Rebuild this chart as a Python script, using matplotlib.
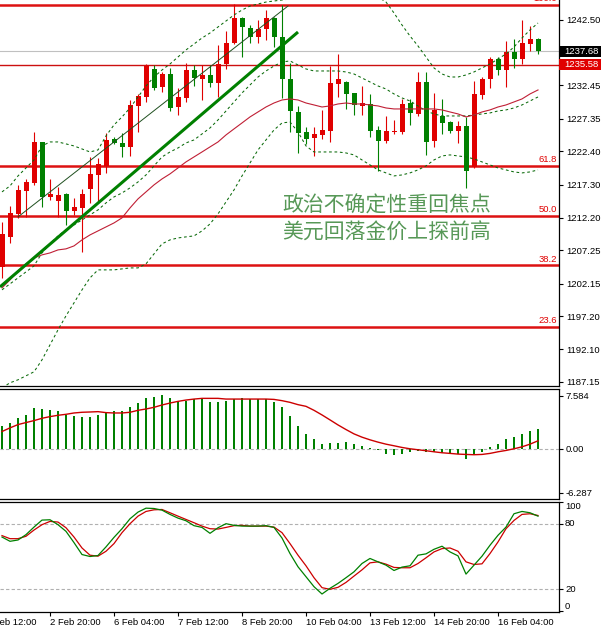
import matplotlib
matplotlib.use("Agg")
import matplotlib.pyplot as plt
import matplotlib.transforms as mtransforms
from matplotlib.patches import Rectangle
import numpy as np

plt.rcParams['font.family'] = ['Liberation Sans', 'DejaVu Sans']

# ---------------- data (4H XAUUSD) ----------------
opens = [1204.67, 1209.34, 1212.81, 1216.37, 1217.50, 1223.76, 1215.36, 1214.84, 1215.86, 1213.31,
         1213.68, 1216.63, 1218.76, 1220.14, 1224.21, 1223.69, 1223.08, 1229.30, 1230.63, 1234.95,
         1232.15, 1234.18, 1229.10, 1230.56, 1234.79, 1233.42, 1234.03, 1232.85, 1235.71, 1238.87,
         1242.69, 1241.16, 1239.79, 1241.01, 1242.69, 1239.79, 1233.37, 1228.34, 1225.28, 1224.37,
         1224.87, 1225.53, 1232.66, 1233.01, 1231.24, 1229.30, 1229.60, 1225.63, 1224.00, 1225.33,
         1225.28, 1229.71, 1228.08, 1233.01, 1224.00, 1227.77, 1226.90, 1225.53, 1226.24, 1219.94,
         1230.98, 1233.42, 1236.43, 1234.79, 1237.59, 1236.47, 1238.76, 1239.48]
highs = [1211.63, 1214.03, 1217.24, 1218.11, 1225.37, 1223.85, 1218.11, 1216.88, 1215.97, 1215.21,
         1216.63, 1221.56, 1221.36, 1225.13, 1224.61, 1225.22, 1230.21, 1231.13, 1235.71, 1235.56,
         1234.53, 1235.05, 1232.00, 1235.82, 1235.56, 1235.56, 1235.56, 1238.61, 1240.79, 1244.87,
         1242.88, 1241.66, 1242.43, 1243.95, 1242.88, 1244.72, 1235.82, 1229.30, 1226.14, 1226.14,
         1228.69, 1235.40, 1237.24, 1233.11, 1231.29, 1232.35, 1231.13, 1226.24, 1227.77, 1227.16,
         1230.32, 1230.32, 1234.53, 1234.53, 1231.24, 1230.32, 1227.05, 1227.05, 1227.66, 1233.16,
         1233.68, 1236.73, 1236.82, 1239.27, 1239.48, 1242.43, 1241.51, 1239.60]
lows = [1202.99, 1208.43, 1212.15, 1212.31, 1217.24, 1213.83, 1214.95, 1212.31, 1211.13, 1212.66,
        1207.05, 1214.53, 1214.53, 1219.11, 1223.50, 1221.56, 1221.71, 1225.37, 1229.95, 1231.74,
        1231.48, 1228.58, 1227.92, 1229.95, 1232.35, 1230.21, 1232.24, 1230.63, 1234.90, 1238.76,
        1236.73, 1238.87, 1238.87, 1239.37, 1238.35, 1230.47, 1225.37, 1222.17, 1223.50, 1221.71,
        1224.21, 1223.85, 1230.63, 1228.79, 1227.92, 1227.92, 1224.52, 1219.42, 1223.69, 1225.02,
        1225.02, 1226.40, 1227.77, 1221.82, 1223.08, 1225.02, 1225.13, 1223.69, 1216.73, 1219.79,
        1230.32, 1232.00, 1234.03, 1232.15, 1235.05, 1235.71, 1237.74, 1237.24]
closes = [1209.76, 1212.92, 1216.47, 1217.65, 1223.76, 1215.45, 1215.86, 1215.71, 1213.31, 1213.92,
          1215.82, 1218.92, 1220.44, 1224.11, 1223.60, 1223.08, 1229.45, 1230.82, 1235.45, 1232.09,
          1234.18, 1228.95, 1230.63, 1234.79, 1233.62, 1234.03, 1232.85, 1235.71, 1238.96, 1242.69,
          1241.40, 1239.79, 1241.01, 1242.69, 1239.79, 1233.37, 1228.58, 1225.22, 1224.21, 1225.02,
          1225.63, 1232.85, 1233.42, 1231.13, 1229.45, 1229.80, 1225.53, 1224.00, 1225.48, 1225.53,
          1229.60, 1228.18, 1233.01, 1223.85, 1228.69, 1226.75, 1225.53, 1226.24, 1219.42, 1231.13,
          1233.42, 1236.43, 1234.79, 1237.59, 1236.47, 1238.96, 1239.48, 1237.68]

bb_upper = [1216.17, 1217.08, 1218.61, 1219.83, 1221.05, 1223.19, 1223.80, 1223.80, 1223.50, 1223.19,
            1222.73, 1222.27, 1222.58, 1224.72, 1226.40, 1227.62, 1228.99, 1230.67, 1232.35, 1233.72,
            1234.79, 1235.71, 1236.78, 1237.85, 1238.76, 1239.68, 1240.44, 1241.36, 1242.27, 1243.19,
            1243.95, 1244.56, 1244.87, 1245.17, 1245.33, 1245.48, 1245.63, 1245.94, 1246.40, 1246.85,
            1247.16, 1247.31, 1247.31, 1247.31, 1247.31, 1247.01, 1246.55, 1245.94, 1245.17, 1243.50,
            1241.66, 1239.98, 1238.46, 1236.78, 1235.10, 1234.18, 1233.72, 1233.72, 1234.03, 1234.49,
            1235.10, 1235.71, 1236.47, 1237.24, 1238.30, 1239.68, 1240.90, 1241.97]
bb_mid = [1201.21, 1202.12, 1203.04, 1203.95, 1204.87, 1206.85, 1208.23, 1209.45, 1210.37, 1211.13,
          1211.89, 1212.66, 1213.42, 1214.49, 1215.40, 1216.01, 1216.78, 1217.69, 1218.76, 1220.14,
          1221.51, 1222.27, 1222.88, 1223.65, 1224.11, 1225.02, 1225.94, 1227.16, 1228.53, 1229.91,
          1231.28, 1232.50, 1233.72, 1234.64, 1235.40, 1236.01, 1236.17, 1235.56, 1234.95, 1234.64,
          1234.64, 1234.64, 1234.64, 1234.49, 1234.18, 1233.57, 1232.96, 1232.35, 1231.89, 1231.13,
          1230.52, 1230.06, 1229.30, 1228.53, 1228.08, 1227.77, 1227.77, 1227.77, 1227.77, 1227.92,
          1228.08, 1228.23, 1228.53, 1228.69, 1228.99, 1229.45, 1230.06, 1230.67]
bb_lower = [1186.24, 1187.01, 1187.47, 1188.08, 1188.69, 1190.52, 1192.81, 1195.10, 1197.24, 1199.22,
            1201.21, 1203.04, 1204.26, 1204.26, 1204.26, 1204.41, 1204.56, 1204.56, 1205.18, 1206.70,
            1208.23, 1208.84, 1209.14, 1209.30, 1209.45, 1210.21, 1211.28, 1212.81, 1214.64, 1216.47,
            1218.61, 1220.59, 1222.58, 1224.11, 1225.63, 1226.70, 1226.85, 1225.33, 1223.19, 1222.27,
            1222.27, 1222.27, 1222.27, 1222.12, 1221.82, 1221.05, 1220.29, 1219.53, 1219.07, 1218.61,
            1218.76, 1219.07, 1219.53, 1220.14, 1221.05, 1221.66, 1221.82, 1221.66, 1221.51, 1221.21,
            1220.75, 1220.29, 1219.83, 1219.53, 1219.22, 1219.07, 1219.22, 1219.53]
ma_red = [1201.51, 1202.73, 1204.11, 1205.18, 1206.09, 1206.55, 1206.85, 1207.31, 1207.47, 1207.92,
          1208.84, 1209.60, 1210.21, 1210.82, 1211.43, 1212.20, 1213.72, 1215.10, 1216.17, 1217.24,
          1218.15, 1218.92, 1219.83, 1220.75, 1221.51, 1222.27, 1223.04, 1223.80, 1224.87, 1225.79,
          1226.70, 1227.62, 1228.38, 1229.14, 1229.75, 1230.21, 1230.37, 1230.21, 1229.75, 1229.45,
          1229.14, 1229.30, 1229.60, 1229.75, 1229.60, 1229.60, 1229.45, 1229.30, 1228.99, 1228.84,
          1228.84, 1228.84, 1228.84, 1228.84, 1228.84, 1228.69, 1228.38, 1228.08, 1227.62, 1227.92,
          1228.38, 1228.69, 1229.14, 1229.45, 1229.91, 1230.37, 1231.13, 1231.74]

macd_hist = [3.31, 3.70, 4.41, 4.84, 5.83, 5.69, 5.55, 5.41, 4.88, 4.74,
             4.55, 4.55, 4.84, 5.06, 5.41, 5.45, 5.97, 6.54, 7.20, 7.40,
             7.68, 7.25, 6.87, 6.87, 7.11, 7.20, 6.73, 6.63, 6.87, 7.06,
             7.20, 7.11, 7.11, 7.11, 6.73, 5.92, 4.64, 3.31, 2.13, 1.33,
             0.71, 0.81, 0.85, 0.90, 0.62, 0.43, 0.05, -0.19, -0.81, -0.90,
             -0.71, -0.52, -0.33, -0.43, -0.43, -0.66, -0.76, -0.76, -1.47, -0.76,
             -0.43, 0.24, 0.71, 1.33, 1.66, 2.13, 2.61, 2.84]
macd_signal = [2.47, 2.99, 3.46, 3.75, 4.03, 4.36, 4.60, 4.79, 4.93, 5.12,
               5.22, 5.26, 5.31, 5.17, 5.12, 5.12, 5.22, 5.50, 5.69, 5.93,
               6.26, 6.54, 6.78, 6.97, 7.11, 7.21, 7.21, 7.21, 7.11, 7.11,
               7.11, 7.11, 7.11, 7.11, 7.06, 6.88, 6.64, 6.31, 6.07, 5.50,
               4.84, 4.13, 3.41, 2.75, 2.13, 1.66, 1.28, 0.95, 0.66, 0.43,
               0.19, 0.00, -0.14, -0.28, -0.43, -0.57, -0.66, -0.76, -0.81, -0.85,
               -0.81, -0.66, -0.43, -0.24, 0.00, 0.28, 0.66, 1.14]

stoch_k = [67.8, 63.9, 65.1, 70.0, 76.9, 83.3, 83.6, 79.1, 73.0, 62.7,
           51.8, 50.0, 50.9, 58.8, 67.5, 75.4, 84.5, 90.6, 94.2, 93.9,
           92.4, 88.5, 85.1, 82.7, 78.2, 76.6, 71.2, 76.3, 80.0, 78.5,
           77.8, 77.8, 77.8, 78.2, 76.6, 66.9, 52.7, 40.6, 31.5, 22.4,
           15.7, 20.9, 25.4, 30.6, 36.0, 43.6, 48.2, 45.1, 42.1, 37.2,
           40.3, 41.5, 51.2, 52.4, 56.6, 59.4, 54.2, 50.6, 33.9, 42.1,
           50.3, 60.3, 69.4, 76.9, 89.1, 91.2, 90.0, 86.9]
stoch_d = [69.1, 66.3, 66.3, 68.5, 74.2, 79.1, 82.1, 81.5, 76.3, 67.8,
           57.8, 51.2, 50.3, 54.8, 61.8, 71.8, 80.0, 86.9, 91.2, 92.7,
           93.0, 90.0, 86.9, 83.9, 80.9, 77.8, 75.4, 75.1, 76.6, 78.2,
           78.5, 77.8, 77.8, 77.8, 76.9, 71.8, 61.8, 51.2, 41.5, 30.6,
           21.5, 20.0, 21.8, 26.3, 32.1, 37.8, 44.2, 45.1, 43.0, 40.0,
           39.7, 39.7, 43.6, 48.8, 54.2, 57.2, 57.8, 54.8, 45.1, 42.7,
           43.3, 52.7, 63.3, 75.4, 83.0, 88.5, 89.1, 87.5]

fib_labels = ['100.0', '61.8', '50.0', '38.2', '23.6']
fib_prices = [1244.70, 1220.14, 1212.55, 1204.96, 1195.57]
bid_price = 1237.68
alert_price = 1235.58
price_ticks = [1242.50, 1232.45, 1227.35, 1222.40, 1217.30, 1212.20,
               1207.25, 1202.15, 1197.20, 1192.10, 1187.15]
macd_ticks = [7.584, 0.0, -6.287]
macd_tick_labels = ['7.584', '0.00', '-6.287']
stoch_ticks = [100, 80, 20, 0]
stoch_levels = [80, 20]
time_tick_pos = [-2, 6, 14, 22, 30, 38, 46, 54, 62]
time_tick_labels = ['1 Feb 12:00', '2 Feb 20:00', '6 Feb 04:00', '7 Feb 12:00', '8 Feb 20:00',
                    '10 Feb 04:00', '13 Feb 12:00', '14 Feb 20:00', '16 Feb 04:00']
trend_thick_x = [-0.25, 37.0]
trend_thick_y = [1201.66, 1240.59]
trend_thin_x = [2.0, 35.75]
trend_thin_y = [1212.35, 1244.56]
headline = ['政治不确定性重回焦点', '美元回落金价上探前高']
headline_x = 35.0
headline_y = [1214.03, 1209.91]

# ---------------- style ----------------
RED = '#e00000'
GREEN = '#008000'
BAND = '#0a6a0a'
TXT = '#579857'
FS = 6.8

W, H = 601, 627
fig = plt.figure(figsize=(W / 100, H / 100), dpi=100)
fig.patch.set_facecolor('white')


def rect(x0, y0, x1, y1):
    return [x0 / W, 1 - y1 / H, (x1 - x0) / W, (y1 - y0) / H]


ax1 = fig.add_axes(rect(0, 0, 559, 385.5))
ax2 = fig.add_axes(rect(0, 388.5, 559, 498.5))
ax3 = fig.add_axes(rect(0, 501.5, 559, 611.5))

xlim = (-0.25, 69.625)
for ax in (ax1, ax2, ax3):
    ax.set_xlim(*xlim)
    ax.set_facecolor('white')
    ax.spines['left'].set_visible(False)
    for s in ('right', 'top', 'bottom'):
        ax.spines[s].set_color('black')
        ax.spines[s].set_linewidth(0.9)
    ax.yaxis.tick_right()
    ax.tick_params(axis='y', direction='out', length=3, width=0.8, pad=2,
                   labelsize=FS, colors='black')
ax1.spines['top'].set_visible(False)
ax1.set_xticks([])
ax2.set_xticks([])

idx = np.arange(len(opens))
o = np.array(opens); hi = np.array(highs); lo = np.array(lows); c = np.array(closes)
col = np.where(c >= o, RED, GREEN)

# ---------------- main panel ----------------
ax1.set_ylim(1186.60, 1245.48)
for p in fib_prices:
    ax1.axhline(p, color='#dd1111', lw=1.8, zorder=2)
ax1.axhline(alert_price, color='#cc1010', lw=1.0, zorder=2)
ax1.axhline(bid_price, color='#c0c0c0', lw=0.8, zorder=1)

ax1.vlines(idx, lo, hi, colors=col, linewidth=0.8, zorder=3)
ax1.bar(idx, np.maximum(np.abs(c - o), 0.15), bottom=np.minimum(o, c), width=0.625,
        color=col, linewidth=0, zorder=4)

for band in (bb_upper, bb_mid, bb_lower):
    ax1.plot(idx, band, color=BAND, lw=0.75, dashes=(2.6, 2.6), zorder=5)
ax1.plot(idx, ma_red, color='#c01f35', lw=0.8, zorder=5)

ax1.plot(trend_thick_x, trend_thick_y, color=GREEN, lw=2.2, zorder=6, solid_capstyle='butt')
ax1.plot(trend_thin_x, trend_thin_y, color='#1f4f1f', lw=0.7, zorder=6)

xr = (557 - 2) / 8
for lab, p in zip(fib_labels, fib_prices):
    ax1.annotate(lab, xy=(xr, p), xytext=(0, 1.2), textcoords='offset points',
                 ha='right', va='bottom', color='#e00000', fontsize=FS, zorder=7)

for txt, yy in zip(headline, headline_y):
    ax1.text(headline_x, yy, txt, ha='left', va='center', fontsize=15, color=TXT,
             family=['Noto Sans CJK SC', 'DejaVu Sans'], zorder=8)

ax1.set_yticks(price_ticks)
ax1.set_yticklabels(['%.2f' % t for t in price_ticks])

# price boxes
blend = mtransforms.blended_transform_factory(ax1.transAxes, ax1.transData)
box_h = 11 / 6.55
for price, fc in ((bid_price, 'black'), (alert_price, '#e00000')):
    ax1.add_patch(Rectangle((1.0, price - box_h / 2), 0.09, box_h, transform=blend,
                            facecolor=fc, edgecolor='none', clip_on=False, zorder=10))
    ax1.text(1.0 + 5 / 559, price, '%.2f' % price, transform=blend, ha='left', va='center',
             color='white', fontsize=FS, clip_on=False, zorder=11)

# ---------------- MACD ----------------
ax2.set_ylim(-7.11, 8.62)
ax2.axhline(0, color='#b0b0b0', lw=0.8, dashes=(3, 2), zorder=1)
ax2.bar(idx, macd_hist, width=0.25, color=GREEN, linewidth=0, zorder=2)
ax2.plot(idx, macd_signal, color='#cc0000', lw=1.0, zorder=3)
ax2.set_yticks(macd_ticks)
ax2.set_yticklabels(macd_tick_labels)

# ---------------- Stochastic ----------------
ax3.set_ylim(-0.3, 100.3)
for lv in stoch_levels:
    ax3.axhline(lv, color='#b0b0b0', lw=0.8, dashes=(3, 2), zorder=1)
ax3.plot(idx, stoch_d, color='#cc0000', lw=0.9, zorder=2)
ax3.plot(idx, stoch_k, color=GREEN, lw=0.9, zorder=3)
ax3.set_yticks(stoch_ticks)
ax3.set_yticklabels([''] * len(stoch_ticks))
blend3 = mtransforms.blended_transform_factory(ax3.transAxes, ax3.transData)
for t in stoch_ticks:
    va = 'top' if t == 100 else ('bottom' if t == 0 else 'center')
    ax3.text(1.0 + 6 / 559, t, str(t), transform=blend3, ha='left', va=va,
             fontsize=FS, clip_on=False)

ax3.set_xticks(time_tick_pos[1:])
ax3.set_xticklabels([''] * (len(time_tick_pos) - 1))
ax3.tick_params(axis='x', direction='out', length=3, width=0.8)
blendx = mtransforms.blended_transform_factory(ax3.transData, ax3.transAxes)
for pos, lab in zip(time_tick_pos, time_tick_labels):
    ax3.annotate(lab, xy=(pos, 0), xycoords=blendx, xytext=(0, -4.5), textcoords='offset points',
                 ha='left', va='top', fontsize=FS, annotation_clip=False)

fig.savefig('out.png', dpi=100)
